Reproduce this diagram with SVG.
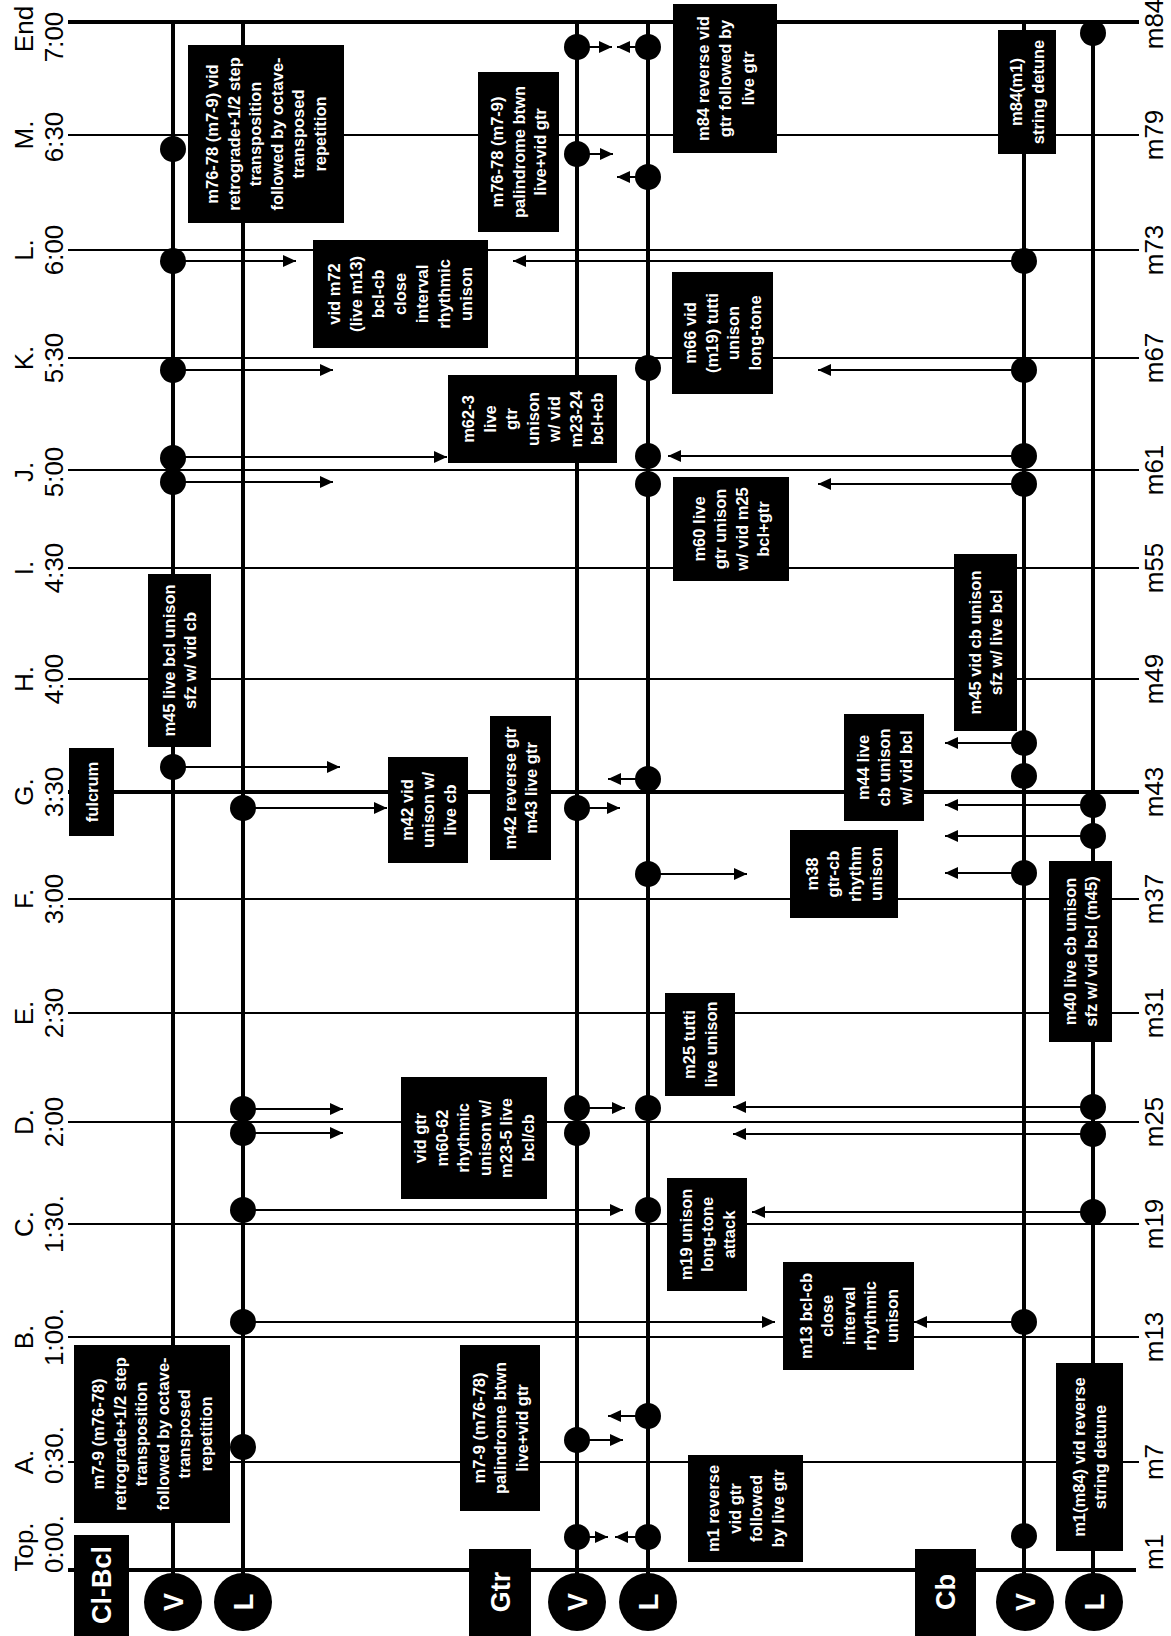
<svg xmlns="http://www.w3.org/2000/svg" width="1171" height="1636" viewBox="0 0 1171 1636">
<style>
.tl{stroke:#000;stroke-width:2}
.tk{stroke:#000;stroke-width:4}
.lane{stroke:#000;stroke-width:4}
.ar{stroke:#000;stroke-width:2;marker-end:url(#ah)}
.dot{fill:#000}
.box{fill:#000}
.bt{fill:#fff;font-family:"Liberation Sans",Arial,sans-serif;font-weight:bold;font-size:16.5px;text-anchor:middle}
.lab{fill:#000;font-family:"Liberation Sans",Arial,sans-serif;font-size:26px;text-anchor:middle}
.mlab{fill:#000;font-family:"Liberation Sans",Arial,sans-serif;font-size:26px;text-anchor:middle}
.gl{fill:#fff;font-family:"Liberation Sans",Arial,sans-serif;font-weight:bold;font-size:27px;text-anchor:middle}
</style>
<defs>
<marker id="ah" markerUnits="userSpaceOnUse" markerWidth="14" markerHeight="12" refX="13" refY="6" orient="auto"><path d="M0,0 L13,6 L0,12 z" fill="#000"/></marker>
</defs>
<rect width="1171" height="1636" fill="#fff"/>
<g id="grid">
<line class="tk" x1="68" y1="22" x2="1139" y2="22"/>
<line class="tl" x1="68" y1="135" x2="1139" y2="135"/>
<line class="tl" x1="68" y1="250" x2="1139" y2="250"/>
<line class="tl" x1="68" y1="358" x2="1139" y2="358"/>
<line class="tl" x1="68" y1="470" x2="1139" y2="470"/>
<line class="tl" x1="68" y1="568" x2="1139" y2="568"/>
<line class="tl" x1="68" y1="679" x2="1139" y2="679"/>
<line class="tk" x1="68" y1="792" x2="1139" y2="792"/>
<line class="tl" x1="68" y1="899" x2="1139" y2="899"/>
<line class="tl" x1="68" y1="1013" x2="1139" y2="1013"/>
<line class="tl" x1="68" y1="1122" x2="1139" y2="1122"/>
<line class="tl" x1="68" y1="1224" x2="1139" y2="1224"/>
<line class="tl" x1="68" y1="1337" x2="1139" y2="1337"/>
<line class="tl" x1="68" y1="1462" x2="1139" y2="1462"/>
<line class="tk" x1="68" y1="1570" x2="1136" y2="1570"/>
<line class="lane" x1="173" y1="22" x2="173" y2="1574"/>
<line class="lane" x1="243" y1="22" x2="243" y2="1574"/>
<line class="lane" x1="577" y1="22" x2="577" y2="1574"/>
<line class="lane" x1="648" y1="22" x2="648" y2="1574"/>
<line class="lane" x1="1024" y1="22" x2="1024" y2="1574"/>
<line class="lane" x1="1093" y1="22" x2="1093" y2="1574"/>
</g>
<g id="time-labels">
<text class="lab" transform="translate(33,29) rotate(-90)">End</text>
<text class="lab" transform="translate(63,37) rotate(-90)">7:00</text>
<text class="lab" transform="translate(33,135) rotate(-90)">M.</text>
<text class="lab" transform="translate(63,137) rotate(-90)">6:30</text>
<text class="lab" transform="translate(33,250) rotate(-90)">L.</text>
<text class="lab" transform="translate(63,250) rotate(-90)">6:00</text>
<text class="lab" transform="translate(33,358) rotate(-90)">K.</text>
<text class="lab" transform="translate(63,358) rotate(-90)">5:30</text>
<text class="lab" transform="translate(33,472) rotate(-90)">J.</text>
<text class="lab" transform="translate(63,472) rotate(-90)">5:00</text>
<text class="lab" transform="translate(33,568) rotate(-90)">I.</text>
<text class="lab" transform="translate(63,568) rotate(-90)">4:30</text>
<text class="lab" transform="translate(33,679) rotate(-90)">H.</text>
<text class="lab" transform="translate(63,679) rotate(-90)">4:00</text>
<text class="lab" transform="translate(33,792) rotate(-90)">G.</text>
<text class="lab" transform="translate(63,792) rotate(-90)">3:30</text>
<text class="lab" transform="translate(33,899) rotate(-90)">F.</text>
<text class="lab" transform="translate(63,899) rotate(-90)">3:00</text>
<text class="lab" transform="translate(33,1013) rotate(-90)">E.</text>
<text class="lab" transform="translate(63,1013) rotate(-90)">2:30</text>
<text class="lab" transform="translate(33,1122) rotate(-90)">D.</text>
<text class="lab" transform="translate(63,1122) rotate(-90)">2:00</text>
<text class="lab" transform="translate(33,1224) rotate(-90)">C.</text>
<text class="lab" transform="translate(63,1224) rotate(-90)">1:30.</text>
<text class="lab" transform="translate(33,1337) rotate(-90)">B.</text>
<text class="lab" transform="translate(63,1337) rotate(-90)">1:00.</text>
<text class="lab" transform="translate(33,1462) rotate(-90)">A.</text>
<text class="lab" transform="translate(63,1455) rotate(-90)">0:30.</text>
<text class="lab" transform="translate(33,1547) rotate(-90)">Top.</text>
<text class="lab" transform="translate(63,1544) rotate(-90)">0:00.</text>
</g>
<g id="measure-labels">
<text class="mlab" transform="translate(1163,24) rotate(-90)">m84</text>
<text class="mlab" transform="translate(1163,135) rotate(-90)">m79</text>
<text class="mlab" transform="translate(1163,250) rotate(-90)">m73</text>
<text class="mlab" transform="translate(1163,358) rotate(-90)">m67</text>
<text class="mlab" transform="translate(1163,470) rotate(-90)">m61</text>
<text class="mlab" transform="translate(1163,568) rotate(-90)">m55</text>
<text class="mlab" transform="translate(1163,679) rotate(-90)">m49</text>
<text class="mlab" transform="translate(1163,792) rotate(-90)">m43</text>
<text class="mlab" transform="translate(1163,899) rotate(-90)">m37</text>
<text class="mlab" transform="translate(1163,1013) rotate(-90)">m31</text>
<text class="mlab" transform="translate(1163,1122) rotate(-90)">m25</text>
<text class="mlab" transform="translate(1163,1224) rotate(-90)">m19</text>
<text class="mlab" transform="translate(1163,1337) rotate(-90)">m13</text>
<text class="mlab" transform="translate(1163,1462) rotate(-90)">m7</text>
<text class="mlab" transform="translate(1163,1552) rotate(-90)">m1</text>
</g>
<g id="connectors">
<line class="ar" x1="173" y1="261" x2="296" y2="261"/>
<line class="ar" x1="173" y1="370" x2="333" y2="370"/>
<line class="ar" x1="173" y1="457" x2="447" y2="457"/>
<line class="ar" x1="173" y1="482" x2="333" y2="482"/>
<line class="ar" x1="173" y1="767" x2="340" y2="767"/>
<line class="ar" x1="243" y1="808" x2="387" y2="808"/>
<line class="ar" x1="243" y1="1109" x2="343" y2="1109"/>
<line class="ar" x1="243" y1="1133" x2="343" y2="1133"/>
<line class="ar" x1="243" y1="1210" x2="623" y2="1210"/>
<line class="ar" x1="243" y1="1322" x2="775" y2="1322"/>
<line class="ar" x1="577" y1="47" x2="612" y2="47"/>
<line class="ar" x1="577" y1="154" x2="613" y2="154"/>
<line class="ar" x1="577" y1="808" x2="620" y2="808"/>
<line class="ar" x1="577" y1="1108" x2="625" y2="1108"/>
<line class="ar" x1="577" y1="1440" x2="623" y2="1440"/>
<line class="ar" x1="577" y1="1537" x2="608" y2="1537"/>
<line class="ar" x1="648" y1="47" x2="617" y2="47"/>
<line class="ar" x1="648" y1="177" x2="617" y2="177"/>
<line class="ar" x1="648" y1="779" x2="608" y2="779"/>
<line class="ar" x1="648" y1="874" x2="747" y2="874"/>
<line class="ar" x1="648" y1="1416" x2="608" y2="1416"/>
<line class="ar" x1="648" y1="1537" x2="615" y2="1537"/>
<line class="ar" x1="1024" y1="261" x2="513" y2="261"/>
<line class="ar" x1="1024" y1="370" x2="818" y2="370"/>
<line class="ar" x1="1024" y1="456" x2="668" y2="456"/>
<line class="ar" x1="1024" y1="484" x2="818" y2="484"/>
<line class="ar" x1="1024" y1="743" x2="945" y2="743"/>
<line class="ar" x1="1024" y1="873" x2="945" y2="873"/>
<line class="ar" x1="1024" y1="1322" x2="914" y2="1322"/>
<line class="ar" x1="1093" y1="805" x2="945" y2="805"/>
<line class="ar" x1="1093" y1="836" x2="945" y2="836"/>
<line class="ar" x1="1093" y1="1107" x2="733" y2="1107"/>
<line class="ar" x1="1093" y1="1134" x2="733" y2="1134"/>
<line class="ar" x1="1093" y1="1212" x2="752" y2="1212"/>
</g>
<g id="events">
<circle class="dot" cx="173" cy="149" r="13"/>
<circle class="dot" cx="173" cy="261" r="13"/>
<circle class="dot" cx="173" cy="370" r="13"/>
<circle class="dot" cx="173" cy="458" r="13"/>
<circle class="dot" cx="173" cy="482" r="13"/>
<circle class="dot" cx="173" cy="767" r="13"/>
<circle class="dot" cx="243" cy="808" r="13"/>
<circle class="dot" cx="243" cy="1109" r="13"/>
<circle class="dot" cx="243" cy="1133" r="13"/>
<circle class="dot" cx="243" cy="1210" r="13"/>
<circle class="dot" cx="243" cy="1322" r="13"/>
<circle class="dot" cx="243" cy="1447" r="13"/>
<circle class="dot" cx="577" cy="47" r="13"/>
<circle class="dot" cx="577" cy="154" r="13"/>
<circle class="dot" cx="577" cy="808" r="13"/>
<circle class="dot" cx="577" cy="1108" r="13"/>
<circle class="dot" cx="577" cy="1133" r="13"/>
<circle class="dot" cx="577" cy="1440" r="13"/>
<circle class="dot" cx="577" cy="1537" r="13"/>
<circle class="dot" cx="648" cy="47" r="13"/>
<circle class="dot" cx="648" cy="177" r="13"/>
<circle class="dot" cx="648" cy="368" r="13"/>
<circle class="dot" cx="648" cy="456" r="13"/>
<circle class="dot" cx="648" cy="484" r="13"/>
<circle class="dot" cx="648" cy="779" r="13"/>
<circle class="dot" cx="648" cy="874" r="13"/>
<circle class="dot" cx="648" cy="1108" r="13"/>
<circle class="dot" cx="648" cy="1210" r="13"/>
<circle class="dot" cx="648" cy="1416" r="13"/>
<circle class="dot" cx="648" cy="1537" r="13"/>
<circle class="dot" cx="1024" cy="261" r="13"/>
<circle class="dot" cx="1024" cy="370" r="13"/>
<circle class="dot" cx="1024" cy="456" r="13"/>
<circle class="dot" cx="1024" cy="484" r="13"/>
<circle class="dot" cx="1024" cy="743" r="13"/>
<circle class="dot" cx="1024" cy="776" r="13"/>
<circle class="dot" cx="1024" cy="873" r="13"/>
<circle class="dot" cx="1024" cy="1322" r="13"/>
<circle class="dot" cx="1024" cy="1536" r="13"/>
<circle class="dot" cx="1093" cy="33" r="13"/>
<circle class="dot" cx="1093" cy="805" r="13"/>
<circle class="dot" cx="1093" cy="836" r="13"/>
<circle class="dot" cx="1093" cy="1107" r="13"/>
<circle class="dot" cx="1093" cy="1134" r="13"/>
<circle class="dot" cx="1093" cy="1212" r="13"/>
</g>
<g id="n1"><rect class="box" x="74" y="1345" width="156" height="178"/><text class="bt" transform="translate(152,1434) rotate(-90)"><tspan x="0" y="-47.75">m7-9 (m76-78)</tspan><tspan x="0" y="-26.25">retrograde+1/2 step</tspan><tspan x="0" y="-4.75">transposition</tspan><tspan x="0" y="16.75">followed by octave-</tspan><tspan x="0" y="38.25">transposed</tspan><tspan x="0" y="59.75">repetition</tspan></text></g>
<g id="n2"><rect class="box" x="188" y="45" width="156" height="178"/><text class="bt" transform="translate(266,134) rotate(-90)"><tspan x="0" y="-47.75">m76-78 (m7-9) vid</tspan><tspan x="0" y="-26.25">retrograde+1/2 step</tspan><tspan x="0" y="-4.75">transposition</tspan><tspan x="0" y="16.75">followed by octave-</tspan><tspan x="0" y="38.25">transposed</tspan><tspan x="0" y="59.75">repetition</tspan></text></g>
<g id="n3"><rect class="box" x="313" y="240" width="175" height="108"/><text class="bt" transform="translate(400.5,294) rotate(-90)"><tspan x="0" y="-61">vid m72</tspan><tspan x="0" y="-39">(live m13)</tspan><tspan x="0" y="-17">bcl-cb</tspan><tspan x="0" y="5">close</tspan><tspan x="0" y="27">interval</tspan><tspan x="0" y="49">rhythmic</tspan><tspan x="0" y="71">unison</tspan></text></g>
<g id="n4"><rect class="box" x="478" y="72" width="81" height="160"/><text class="bt" transform="translate(518.5,152) rotate(-90)"><tspan x="0" y="-15.5">m76-78 (m7-9)</tspan><tspan x="0" y="6">palindrome btwn</tspan><tspan x="0" y="27.5">live+vid gtr</tspan></text></g>
<g id="n5"><rect class="box" x="673" y="4" width="104" height="149"/><text class="bt" transform="translate(725,78.5) rotate(-90)"><tspan x="0" y="-16.5">m84 reverse vid</tspan><tspan x="0" y="6">gtr followed by</tspan><tspan x="0" y="28.5">live gtr</tspan></text></g>
<g id="n6"><rect class="box" x="998" y="30" width="58" height="124"/><text class="bt" transform="translate(1027,92) rotate(-90)"><tspan x="0" y="-4.75">m84(m1)</tspan><tspan x="0" y="16.75">string detune</tspan></text></g>
<g id="n7"><rect class="box" x="672" y="272" width="101" height="122"/><text class="bt" transform="translate(722.5,333) rotate(-90)"><tspan x="0" y="-26.25">m66 vid</tspan><tspan x="0" y="-4.75">(m19) tutti</tspan><tspan x="0" y="16.75">unison</tspan><tspan x="0" y="38.25">long-tone</tspan></text></g>
<g id="n8"><rect class="box" x="448" y="375" width="169" height="88"/><text class="bt" transform="translate(532.5,419) rotate(-90)"><tspan x="0" y="-58.5">m62-3</tspan><tspan x="0" y="-37">live</tspan><tspan x="0" y="-15.5">gtr</tspan><tspan x="0" y="6">unison</tspan><tspan x="0" y="27.5">w/ vid</tspan><tspan x="0" y="49">m23-24</tspan><tspan x="0" y="70.5">bcl+cb</tspan></text></g>
<g id="n9"><rect class="box" x="673" y="477" width="116" height="104"/><text class="bt" transform="translate(731,529) rotate(-90)"><tspan x="0" y="-26.25">m60 live</tspan><tspan x="0" y="-4.75">gtr unison</tspan><tspan x="0" y="16.75">w/ vid m25</tspan><tspan x="0" y="38.25">bcl+gtr</tspan></text></g>
<g id="n10"><rect class="box" x="148" y="574" width="63" height="173"/><text class="bt" transform="translate(179.5,660.5) rotate(-90)"><tspan x="0" y="-4.75">m45 live bcl unison</tspan><tspan x="0" y="16.75">sfz w/ vid cb</tspan></text></g>
<g id="n11"><rect class="box" x="69" y="748" width="45" height="88"/><text class="bt" transform="translate(91.5,792) rotate(-90)"><tspan x="0" y="6">fulcrum</tspan></text></g>
<g id="n12"><rect class="box" x="388" y="757" width="80" height="106"/><text class="bt" transform="translate(428,810) rotate(-90)"><tspan x="0" y="-15.5">m42 vid</tspan><tspan x="0" y="6">unison w/</tspan><tspan x="0" y="27.5">live cb</tspan></text></g>
<g id="n13"><rect class="box" x="490" y="716" width="61" height="144"/><text class="bt" transform="translate(520.5,788) rotate(-90)"><tspan x="0" y="-4.75">m42 reverse gtr</tspan><tspan x="0" y="16.75">m43 live gtr</tspan></text></g>
<g id="n14"><rect class="box" x="954" y="554" width="63" height="177"/><text class="bt" transform="translate(985.5,642.5) rotate(-90)"><tspan x="0" y="-4.75">m45 vid cb unison</tspan><tspan x="0" y="16.75">sfz w/ live bcl</tspan></text></g>
<g id="n15"><rect class="box" x="844" y="714" width="80" height="107"/><text class="bt" transform="translate(884,767.5) rotate(-90)"><tspan x="0" y="-15.5">m44 live</tspan><tspan x="0" y="6">cb unison</tspan><tspan x="0" y="27.5">w/ vid bcl</tspan></text></g>
<g id="n16"><rect class="box" x="790" y="830" width="108" height="88"/><text class="bt" transform="translate(844,874) rotate(-90)"><tspan x="0" y="-26.25">m38</tspan><tspan x="0" y="-4.75">gtr-cb</tspan><tspan x="0" y="16.75">rhythm</tspan><tspan x="0" y="38.25">unison</tspan></text></g>
<g id="n17"><rect class="box" x="1049" y="861" width="63" height="181"/><text class="bt" transform="translate(1080.5,951.5) rotate(-90)"><tspan x="0" y="-4.75">m40 live cb unison</tspan><tspan x="0" y="16.75">sfz w/ vid bcl (m45)</tspan></text></g>
<g id="n18"><rect class="box" x="665" y="993" width="70" height="103"/><text class="bt" transform="translate(700,1044.5) rotate(-90)"><tspan x="0" y="-4.75">m25 tutti</tspan><tspan x="0" y="16.75">live unison</tspan></text></g>
<g id="n19"><rect class="box" x="401" y="1077" width="146" height="122"/><text class="bt" transform="translate(474,1138) rotate(-90)"><tspan x="0" y="-47.75">vid gtr</tspan><tspan x="0" y="-26.25">m60-62</tspan><tspan x="0" y="-4.75">rhythmic</tspan><tspan x="0" y="16.75">unison w/</tspan><tspan x="0" y="38.25">m23-5 live</tspan><tspan x="0" y="59.75">bcl/cb</tspan></text></g>
<g id="n20"><rect class="box" x="667" y="1178" width="80" height="113"/><text class="bt" transform="translate(707,1234.5) rotate(-90)"><tspan x="0" y="-15.5">m19 unison</tspan><tspan x="0" y="6">long-tone</tspan><tspan x="0" y="27.5">attack</tspan></text></g>
<g id="n21"><rect class="box" x="783" y="1262" width="131" height="108"/><text class="bt" transform="translate(848.5,1316) rotate(-90)"><tspan x="0" y="-37">m13 bcl-cb</tspan><tspan x="0" y="-15.5">close</tspan><tspan x="0" y="6">interval</tspan><tspan x="0" y="27.5">rhythmic</tspan><tspan x="0" y="49">unison</tspan></text></g>
<g id="n22"><rect class="box" x="460" y="1345" width="80" height="166"/><text class="bt" transform="translate(500,1428) rotate(-90)"><tspan x="0" y="-15.5">m7-9 (m76-78)</tspan><tspan x="0" y="6">palindrome btwn</tspan><tspan x="0" y="27.5">live+vid gtr</tspan></text></g>
<g id="n23"><rect class="box" x="688" y="1455" width="115" height="107"/><text class="bt" transform="translate(745.5,1508.5) rotate(-90)"><tspan x="0" y="-26.25">m1 reverse</tspan><tspan x="0" y="-4.75">vid gtr</tspan><tspan x="0" y="16.75">followed</tspan><tspan x="0" y="38.25">by live gtr</tspan></text></g>
<g id="n24"><rect class="box" x="1056" y="1363" width="67" height="188"/><text class="bt" transform="translate(1089.5,1457) rotate(-90)"><tspan x="0" y="-4.75">m1(m84) vid reverse</tspan><tspan x="0" y="16.75">string detune</tspan></text></g>
<g id="group-clbcl"><rect class="box" x="74" y="1535" width="55" height="101"/><text class="gl" transform="translate(101.5,1585) rotate(-90)" y="9.5">Cl-Bcl</text></g>
<g id="group-gtr"><rect class="box" x="469" y="1549" width="62" height="87"/><text class="gl" transform="translate(500,1592) rotate(-90)" y="9.5">Gtr</text></g>
<g id="group-cb"><rect class="box" x="915" y="1549" width="61" height="87"/><text class="gl" transform="translate(945.5,1592) rotate(-90)" y="9.5">Cb</text></g>
<g id="clbcl-v"><circle cx="173" cy="1602" r="29" fill="#000"/><text class="gl" transform="translate(173,1602) rotate(-90)" y="9.5">V</text></g>
<g id="clbcl-l"><circle cx="243" cy="1602" r="29" fill="#000"/><text class="gl" transform="translate(243,1602) rotate(-90)" y="9.5">L</text></g>
<g id="gtr-v"><circle cx="577" cy="1602" r="29" fill="#000"/><text class="gl" transform="translate(577,1602) rotate(-90)" y="9.5">V</text></g>
<g id="gtr-l"><circle cx="648" cy="1602" r="29" fill="#000"/><text class="gl" transform="translate(648,1602) rotate(-90)" y="9.5">L</text></g>
<g id="cb-v"><circle cx="1025" cy="1602" r="29" fill="#000"/><text class="gl" transform="translate(1025,1602) rotate(-90)" y="9.5">V</text></g>
<g id="cb-l"><circle cx="1094" cy="1602" r="29" fill="#000"/><text class="gl" transform="translate(1094,1602) rotate(-90)" y="9.5">L</text></g>
</svg>
